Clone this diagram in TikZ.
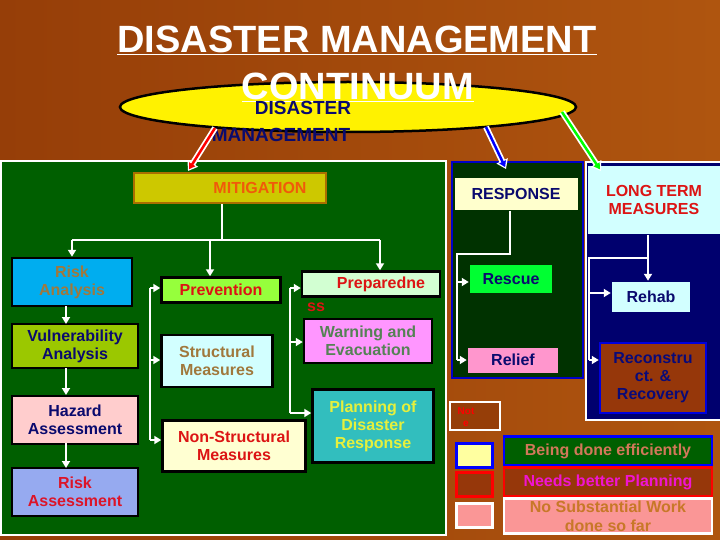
\documentclass[tikz,border=0pt]{standalone}
\usepackage{fontspec}
\setmainfont{Liberation Sans}
\usetikzlibrary{arrows.meta,shapes.geometric}
\begin{document}
\begin{tikzpicture}[x=1pt,y=-1pt,
  bx/.style={draw, line width=2.5pt, inner sep=0pt, align=center, font=\fontsize{16}{18}\selectfont\bfseries},
  wl/.style={draw=white, line width=2.5pt},
  wa/.style={draw=white, line width=2.5pt, -{Triangle[length=7pt,width=8pt]}},
  panel/.style={line width=2pt}]
\fill[left color={rgb,255:red,150;green,62;blue,8}, right color={rgb,255:red,175;green,85;blue,15}] (0,0) rectangle (720,540);
\useasboundingbox (0,0) rectangle (720,540);
% panels
\node[panel, draw=white, fill={rgb,255:red,0;green,95;blue,0}, minimum width=445, minimum height=374, inner sep=0] (mitpanel) at (223,348) {};
\node[panel, draw={rgb,255:red,0;green,0;blue,200}, fill={rgb,255:red,0;green,50;blue,0}, minimum width=131, minimum height=215, inner sep=0] (resppanel) at (517,270) {};
\node[panel, draw=white, fill={rgb,255:red,0;green,0;blue,110}, minimum width=136, minimum height=258, inner sep=0] (ltpanel) at (654,291) {};
% title
\node[text=white, font=\fontsize{38}{40}\selectfont\bfseries] (t1) at (357,40) {\underline{DISASTER MANAGEMENT}};
% ellipse
\node[ellipse, draw=black, line width=2.5pt, fill=yellow, minimum width=456, minimum height=50] (ell) at (348,107) {};
\node[text=white, font=\fontsize{38}{40}\selectfont\bfseries] (t2) at (358,87) {\underline{CONTINUUM}};
\node[text={rgb,255:red,10;green,10;blue,110}, font=\fontsize{19}{21}\selectfont\bfseries] (dm1) at (303,108) {DISASTER};
\node[text={rgb,255:red,10;green,10;blue,110}, font=\fontsize{19}{21}\selectfont\bfseries] (dm2) at (281,135) {MANAGEMENT};
% mitigation
\node[bx, draw={rgb,255:red,170;green,110;blue,0}, fill={rgb,255:red,205;green,200;blue,0}, minimum width=192, minimum height=30, text={rgb,255:red,240;green,90;blue,10}] (mit) at (230,188) {\hspace*{60pt}MITIGATION};
\node[bx, fill=cyan, minimum width=120, minimum height=48, text={rgb,255:red,160;green,120;blue,60}] (risk) at (72,282) {Risk\\Analysis};
\node[bx, fill={rgb,255:red,155;green,200;blue,0}, minimum width=126, minimum height=44, text={rgb,255:red,10;green,10;blue,110}] (vul) at (75,346) {Vulnerability\\Analysis};
\node[bx, fill={rgb,255:red,255;green,205;blue,205}, minimum width=126, minimum height=48, text={rgb,255:red,10;green,10;blue,110}] (haz) at (75,420) {Hazard\\Assessment};
\node[bx, fill={rgb,255:red,150;green,170;blue,240}, minimum width=126, minimum height=48, text={rgb,255:red,220;green,20;blue,40}] (rass) at (75,492) {Risk\\Assessment};
\node[bx, fill={rgb,255:red,150;green,255;blue,60}, minimum width=119, minimum height=25, text={rgb,255:red,220;green,20;blue,20}] (prev) at (221,290) {Prevention};
\node[bx, fill={rgb,255:red,210;green,255;blue,255}, minimum width=111, minimum height=52, text={rgb,255:red,160;green,120;blue,60}] (str) at (217,361) {Structural\\Measures};
\node[bx, fill={rgb,255:red,255;green,255;blue,210}, minimum width=143, minimum height=51, text={rgb,255:red,220;green,20;blue,20}] (nstr) at (234,446) {Non-Structural\\Measures};
\node[bx, fill={rgb,255:red,210;green,255;blue,210}, minimum width=138, minimum height=25, text={rgb,255:red,220;green,20;blue,20}] (prep) at (371,284) {\hspace*{20pt}Preparedne};
\node[text={rgb,255:red,220;green,20;blue,20}, font=\fontsize{16}{18}\selectfont\bfseries] (ss) at (316,307) {ss};
\node[bx, fill={rgb,255:red,255;green,150;blue,255}, minimum width=128, minimum height=44, text={rgb,255:red,85;green,130;blue,85}] (warn) at (368,341) {Warning and\\Evacuation};
\node[bx, fill={rgb,255:red,50;green,190;blue,190}, minimum width=121, minimum height=73, text={rgb,255:red,230;green,240;blue,60}] (plan) at (373,426) {Planning of\\Disaster\\Response};
% response
\node[bx, draw=none, fill={rgb,255:red,255;green,255;blue,205}, minimum width=123, minimum height=32, text={rgb,255:red,10;green,10;blue,110}] (resp) at (516,194) {RESPONSE};
\node[bx, draw=none, fill={rgb,255:red,0;green,255;blue,50}, minimum width=82, minimum height=28, text={rgb,255:red,10;green,10;blue,110}] (resc) at (511,279) {Rescue};
\node[bx, draw=none, fill={rgb,255:red,255;green,150;blue,205}, minimum width=90, minimum height=25, text={rgb,255:red,10;green,10;blue,110}] (relf) at (513,360) {Relief};
% long term
\node[bx, draw=none, fill={rgb,255:red,210;green,255;blue,255}, minimum width=132, minimum height=67, text={rgb,255:red,220;green,20;blue,20}] (lt) at (654,200) {LONG TERM\\MEASURES};
\node[bx, draw=none, fill={rgb,255:red,210;green,255;blue,255}, minimum width=78, minimum height=30, text={rgb,255:red,10;green,10;blue,110}] (rehab) at (651,297) {Rehab};
\node[bx, draw={rgb,255:red,0;green,0;blue,220}, fill={rgb,255:red,150;green,55;blue,10}, minimum width=106, minimum height=70, text={rgb,255:red,10;green,10;blue,120}] (recon) at (653,378) {Reconstru\\ct. \&\\Recovery};
% coloured arrows
\coordinate (ra1) at (215,128); \coordinate (ra2) at (188,171);
\coordinate (ba1) at (486,127); \coordinate (ba2) at (506,169);
\coordinate (ga1) at (562,112); \coordinate (ga2) at (601,171);
\foreach \a/\b/\c in {ra1/ra2/red, ba1/ba2/blue, ga1/ga2/green}{
  \draw[white, line width=6pt, -{Triangle[length=9pt,width=12pt]}] (\a) -- (\b);
  \draw[\c, line width=2.5pt, shorten >=2pt, -{Triangle[length=6pt,width=7pt]}] (\a) -- (\b);
}
% mitigation connectors
\coordinate (mj) at (222,240); \coordinate (ml) at (72,240); \coordinate (mm) at (210,240); \coordinate (mr) at (380,240);
\draw[wl] (mit.south -| mj) -- (mj);
\draw[wl] (ml) -- (mr);
\draw[wa] (ml) -- (risk.north);
\draw[wa] (mm) -- (mm |- prev.north);
\draw[wa] (mr) -- (mr |- prep.north);
\draw[wa] (66,306) -- (66,324);
\draw[wa] (66,368) -- (66,395);
\draw[wa] (66,443) -- (66,468);
\coordinate (pv1) at (150,288); \coordinate (pv2) at (150,440);
\draw[wl] (pv1) -- (pv2);
\draw[wa] (pv1) -- (prev.west |- pv1);
\draw[wa] (150,360) -- (str.west |- 0,360);
\draw[wa] (pv2) -- (nstr.west |- pv2);
\coordinate (pp1) at (290,288); \coordinate (pp2) at (290,413);
\draw[wl] (pp1) -- (pp2);
\draw[wa] (pp1) -- (prep.west |- pp1);
\draw[wa] (290,342) -- (warn.west |- 0,342);
\draw[wa] (pp2) -- (plan.west |- pp2);
% response connectors
\coordinate (rc1) at (510,254); \coordinate (rc2) at (457,254); \coordinate (rc3) at (457,360);
\draw[wl] (resp.south -| rc1) -- (rc1) -- (rc2) -- (rc3);
\draw[wa] (457,282) -- (resc.west |- 0,282);
\draw[wa] (rc3) -- (relf.west);
% long-term connectors
\coordinate (lc1) at (589,258); \coordinate (lc2) at (648,258); \coordinate (lc3) at (589,360);
\draw[wl] (lc3) -- (lc1) -- (lc2);
\draw[wl] (lt.south -| lc2) -- (lc2);
\draw[wa] (lc2) -- (lc2 |- rehab.north);
\draw[wa] (589,293) -- (rehab.west |- 0,293);
\draw[wa] (lc3) -- (recon.west |- lc3);
% legend
\node[draw=white, line width=2pt, fill={rgb,255:red,150;green,62;blue,8}, minimum width=50, minimum height=28, inner sep=0] (note) at (475,416) {};
\node[text=red, font=\fontsize{10}{12}\selectfont\bfseries, align=center] (notet) at (466,417) {Not\\e};
\node[draw=blue, line width=3pt, fill={rgb,255:red,255;green,255;blue,160}, minimum width=36, minimum height=24, inner sep=0] (sq1) at (474,455) {};
\node[draw=red, line width=3pt, fill={rgb,255:red,150;green,55;blue,10}, minimum width=36, minimum height=24, inner sep=0] (sq2) at (474,484) {};
\node[draw=white, line width=3pt, fill={rgb,255:red,250;green,150;blue,150}, minimum width=36, minimum height=24, inner sep=0] (sq3) at (474,515) {};
\node[bx, draw=blue, fill={rgb,255:red,0;green,95;blue,0}, minimum width=208, minimum height=29, text={rgb,255:red,210;green,120;blue,90}] (leg1) at (608,451) {Being done efficiently};
\node[bx, draw=red, fill={rgb,255:red,150;green,55;blue,10}, minimum width=208, minimum height=29, text={rgb,255:red,240;green,20;blue,210}] (leg2) at (608,482) {Needs better Planning};
\node[bx, draw=white, fill={rgb,255:red,250;green,150;blue,150}, minimum width=208, minimum height=35, text={rgb,255:red,200;green,120;blue,40}, font=\fontsize{16}{19}\selectfont\bfseries] (leg3) at (608,516) {No Substantial Work\\done so far};
\end{tikzpicture}
\end{document}
